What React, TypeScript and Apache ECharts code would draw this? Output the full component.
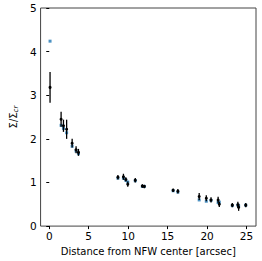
import React, { useEffect, useRef } from "react";
import * as echarts from "echarts";

const radius = [0.1, 1.5, 1.8, 2.2, 2.9, 3.4, 3.7, 8.7, 9.4, 9.7, 9.95, 10.9, 11.8, 12.05, 15.7, 16.3, 19.0, 19.9, 20.5, 21.4, 21.55, 23.2, 23.9, 24.0, 24.9];
const observed = [3.18, 2.45, 2.30, 2.22, 1.90, 1.75, 1.69, 1.12, 1.13, 1.07, 0.96, 1.05, 0.92, 0.91, 0.82, 0.80, 0.68, 0.64, 0.60, 0.60, 0.50, 0.48, 0.49, 0.43, 0.48];
const errors = [0.35, 0.17, 0.14, 0.22, 0.1, 0.08, 0.08, 0.05, 0.07, 0.05, 0.06, 0.05, 0.04, 0.04, 0.04, 0.05, 0.08, 0.07, 0.06, 0.07, 0.06, 0.05, 0.07, 0.08, 0.05];
const model = [4.24, 2.31, 2.24, 2.14, 1.83, 1.72, 1.66, 1.10, 1.10, 1.05, 1.01, 1.04, 0.91, 0.91, 0.81, 0.78, 0.60, 0.57, 0.59, 0.54, 0.55, 0.47, 0.48, 0.46, 0.48];
const xTicks = [0, 5, 10, 15, 20, 25];

export default function App() {
  const ref = useRef<HTMLDivElement>(null);
  useEffect(() => {
    const chart = echarts.init(ref.current!, null, { renderer: "svg" });
    const font = "DejaVu Sans";
    chart.setOption({
      animation: false,
      grid: { left: 26, top: 8, right: 6, bottom: 29, show: true, borderColor: "#444", borderWidth: 1, backgroundColor: "transparent" },
      xAxis: {
        type: "value",
        min: -1.1,
        max: 26.2,
        name: "Distance from NFW center [arcsec]",
        nameLocation: "middle",
        nameGap: 19,
        nameTextStyle: { fontFamily: font, fontSize: 10, color: "#000" },
        splitLine: { show: false },
        axisLine: { show: false },
        axisTick: { show: true, customValues: xTicks, length: 3, lineStyle: { color: "#000" } },
        axisLabel: { customValues: xTicks, fontFamily: font, fontSize: 10.5, color: "#000", margin: 4 },
      },
      yAxis: {
        type: "value",
        min: 0,
        max: 5,
        interval: 1,
        name: "{a|Σ/Σ}{b|cr}",
        nameLocation: "middle",
        nameRotate: 90,
        nameGap: 14,
        nameTextStyle: {
          fontFamily: font,
          color: "#000",
          rich: {
            a: { fontFamily: font, fontSize: 10, color: "#000" },
            b: { fontFamily: font, fontSize: 7, fontStyle: "italic", color: "#000", padding: [5, 0, 0, 0] },
          },
        },
        splitLine: { show: false },
        axisLine: { show: false },
        axisTick: { show: true, length: 3, lineStyle: { color: "#000" } },
        axisLabel: { fontFamily: font, fontSize: 10.5, color: "#000", margin: 4 },
      },
      series: [
        {
          type: "scatter",
          data: radius.map((x, i) => [x, model[i]]),
          symbol: "rect",
          symbolSize: 3,
          itemStyle: { color: "#1f77b4" },
          z: 2,
        },
        {
          type: "custom",
          data: radius.map((x, i) => [x, observed[i], errors[i]]),
          renderItem: (params: any, api: any) => {
            const x = api.value(0);
            const y = api.value(1);
            const e = api.value(2);
            const p1 = api.coord([x, y - e]);
            const p2 = api.coord([x, y + e]);
            const c = api.coord([x, y]);
            return {
              type: "group",
              children: [
                { type: "line", shape: { x1: p1[0], y1: p1[1], x2: p2[0], y2: p2[1] }, style: { stroke: "#000", lineWidth: 1.3 } },
                { type: "circle", shape: { cx: c[0], cy: c[1], r: 1.5 }, style: { fill: "#000" } },
              ],
            };
          },
          z: 3,
        },
      ],
    });
    return () => chart.dispose();
  }, []);
  return <div ref={ref} style={{ width: 262, height: 261, position: "absolute", left: 0, top: 0 }} />;
}
